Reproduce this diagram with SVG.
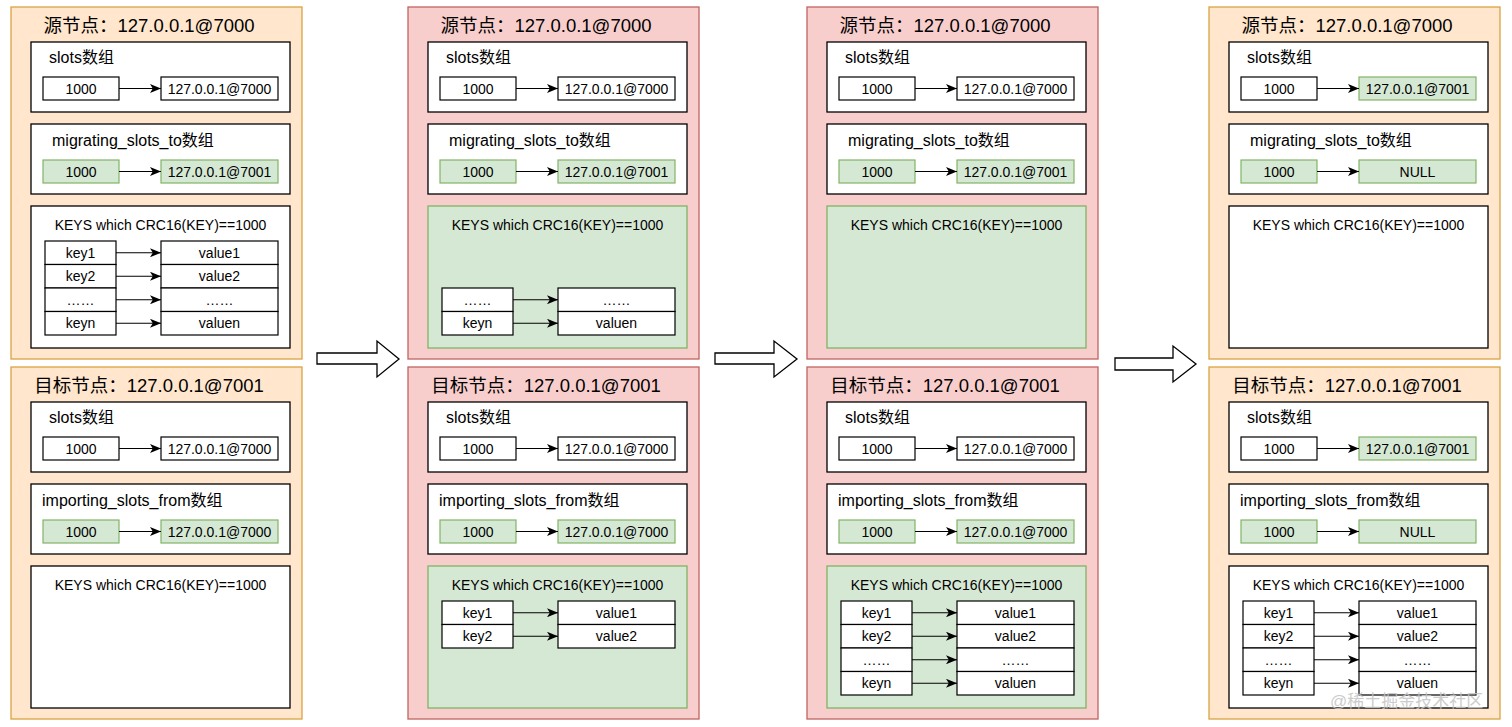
<svg xmlns="http://www.w3.org/2000/svg" width="1512" height="727" viewBox="0 0 1512 727">
<style>
text{font-family:"Liberation Sans","Noto Sans CJK SC",sans-serif;fill:#000}
.oo{fill:#ffe6cc;stroke:#d9a441;stroke-width:1.3}
.op{fill:#f8cecc;stroke:#bf6460;stroke-width:1.3}
.box{fill:#fff;stroke:#000;stroke-width:1.3}
.gbox{fill:#d5e8d4;stroke:#82b366;stroke-width:1.3}
.cell{fill:#fff;stroke:#000;stroke-width:1.2}
.gcell{fill:#d5e8d4;stroke:#82b366;stroke-width:1.2}
.title{font-size:18.5px;text-anchor:middle}
.sub{font-size:16px}
.t{font-size:14px;text-anchor:middle}
.conn{stroke:#000;stroke-width:1.2;fill:none;marker-end:url(#ah)}
.big{fill:#fff;stroke:#000;stroke-width:1.3}
.wm{font-size:17px;fill:#c4c4c4;opacity:0.85}
</style>
<defs>
<marker id="ah" markerUnits="userSpaceOnUse" markerWidth="11" markerHeight="9" refX="11" refY="4.5" orient="auto">
<path d="M0,0 L11,4.5 L0,9 L2.8,4.5 Z" fill="#000"/>
</marker>
</defs>

<!-- ===== Column 1 ===== -->
<g id="c1-src">
<rect class="oo" x="11" y="7" width="291" height="352"/>
<text class="title" x="149" y="32">源节点：127.0.0.1@7000</text>
<g id="c1-src-slots">
<rect class="box" x="31" y="42" width="259" height="70"/>
<text class="sub" x="49" y="63">slots数组</text>
<rect class="cell" x="43" y="77" width="76" height="23"/><text class="t" x="81" y="93.5">1000</text>
<rect class="cell" x="161" y="77" width="117" height="23"/><text class="t" x="219.5" y="93.5">127.0.0.1@7000</text>
</g>
<g id="c1-src-mig">
<rect class="box" x="31" y="124" width="259" height="70"/>
<text class="sub" x="52" y="146">migrating_slots_to数组</text>
<rect class="gcell" x="43" y="160" width="76" height="23"/><text class="t" x="81" y="176.5">1000</text>
<rect class="gcell" x="161" y="160" width="117" height="23"/><text class="t" x="219.5" y="176.5">127.0.0.1@7001</text>
</g>
<g id="c1-src-keys">
<rect class="box" x="31" y="206" width="259" height="142"/>
<text class="t" x="160.5" y="230">KEYS which CRC16(KEY)==1000</text>
<rect class="cell" x="45" y="241" width="71" height="23.5"/><text class="t" x="80.5" y="257.5">key1</text>
<rect class="cell" x="161" y="241" width="117" height="23.5"/><text class="t" x="219.5" y="257.5">value1</text>
<rect class="cell" x="45" y="264.5" width="71" height="23.5"/><text class="t" x="80.5" y="281">key2</text>
<rect class="cell" x="161" y="264.5" width="117" height="23.5"/><text class="t" x="219.5" y="281">value2</text>
<rect class="cell" x="45" y="288" width="71" height="23.5"/><text class="t" x="80.5" y="304.5">……</text>
<rect class="cell" x="161" y="288" width="117" height="23.5"/><text class="t" x="219.5" y="304.5">……</text>
<rect class="cell" x="45" y="311.5" width="71" height="23.5"/><text class="t" x="80.5" y="328">keyn</text>
<rect class="cell" x="161" y="311.5" width="117" height="23.5"/><text class="t" x="219.5" y="328">valuen</text>
</g>
</g>

<g id="c1-dst">
<rect class="oo" x="11" y="367" width="291" height="352"/>
<text class="title" x="149" y="392">目标节点：127.0.0.1@7001</text>
<g id="c1-dst-slots">
<rect class="box" x="31" y="402" width="259" height="70"/>
<text class="sub" x="49" y="423">slots数组</text>
<rect class="cell" x="43" y="437" width="76" height="23"/><text class="t" x="81" y="453.5">1000</text>
<rect class="cell" x="161" y="437" width="117" height="23"/><text class="t" x="219.5" y="453.5">127.0.0.1@7000</text>
</g>
<g id="c1-dst-imp">
<rect class="box" x="31" y="484" width="259" height="70"/>
<text class="sub" x="42" y="506">importing_slots_from数组</text>
<rect class="gcell" x="43" y="520" width="76" height="23"/><text class="t" x="81" y="536.5">1000</text>
<rect class="gcell" x="161" y="520" width="117" height="23"/><text class="t" x="219.5" y="536.5">127.0.0.1@7000</text>
</g>
<g id="c1-dst-keys">
<rect class="box" x="31" y="566" width="259" height="142"/>
<text class="t" x="160.5" y="590">KEYS which CRC16(KEY)==1000</text>
</g>
</g>

<!-- ===== Column 2 ===== -->
<g id="c2-src">
<rect class="op" x="408" y="7" width="291" height="352"/>
<text class="title" x="546" y="32">源节点：127.0.0.1@7000</text>
<g id="c2-src-slots">
<rect class="box" x="428" y="42" width="259" height="70"/>
<text class="sub" x="446" y="63">slots数组</text>
<rect class="cell" x="440" y="77" width="76" height="23"/><text class="t" x="478" y="93.5">1000</text>
<rect class="cell" x="558" y="77" width="117" height="23"/><text class="t" x="616.5" y="93.5">127.0.0.1@7000</text>
</g>
<g id="c2-src-mig">
<rect class="box" x="428" y="124" width="259" height="70"/>
<text class="sub" x="449" y="146">migrating_slots_to数组</text>
<rect class="gcell" x="440" y="160" width="76" height="23"/><text class="t" x="478" y="176.5">1000</text>
<rect class="gcell" x="558" y="160" width="117" height="23"/><text class="t" x="616.5" y="176.5">127.0.0.1@7001</text>
</g>
<g id="c2-src-keys">
<rect class="gbox" x="428" y="206" width="259" height="142"/>
<text class="t" x="557.5" y="230">KEYS which CRC16(KEY)==1000</text>
<rect class="cell" x="442" y="288" width="71" height="23.5"/><text class="t" x="477.5" y="304.5">……</text>
<rect class="cell" x="558" y="288" width="117" height="23.5"/><text class="t" x="616.5" y="304.5">……</text>
<rect class="cell" x="442" y="311.5" width="71" height="23.5"/><text class="t" x="477.5" y="328">keyn</text>
<rect class="cell" x="558" y="311.5" width="117" height="23.5"/><text class="t" x="616.5" y="328">valuen</text>
</g>
</g>

<g id="c2-dst">
<rect class="op" x="408" y="367" width="291" height="352"/>
<text class="title" x="546" y="392">目标节点：127.0.0.1@7001</text>
<g id="c2-dst-slots">
<rect class="box" x="428" y="402" width="259" height="70"/>
<text class="sub" x="446" y="423">slots数组</text>
<rect class="cell" x="440" y="437" width="76" height="23"/><text class="t" x="478" y="453.5">1000</text>
<rect class="cell" x="558" y="437" width="117" height="23"/><text class="t" x="616.5" y="453.5">127.0.0.1@7000</text>
</g>
<g id="c2-dst-imp">
<rect class="box" x="428" y="484" width="259" height="70"/>
<text class="sub" x="439" y="506">importing_slots_from数组</text>
<rect class="gcell" x="440" y="520" width="76" height="23"/><text class="t" x="478" y="536.5">1000</text>
<rect class="gcell" x="558" y="520" width="117" height="23"/><text class="t" x="616.5" y="536.5">127.0.0.1@7000</text>
</g>
<g id="c2-dst-keys">
<rect class="gbox" x="428" y="566" width="259" height="142"/>
<text class="t" x="557.5" y="590">KEYS which CRC16(KEY)==1000</text>
<rect class="cell" x="442" y="601" width="71" height="23.5"/><text class="t" x="477.5" y="617.5">key1</text>
<rect class="cell" x="558" y="601" width="117" height="23.5"/><text class="t" x="616.5" y="617.5">value1</text>
<rect class="cell" x="442" y="624.5" width="71" height="23.5"/><text class="t" x="477.5" y="641">key2</text>
<rect class="cell" x="558" y="624.5" width="117" height="23.5"/><text class="t" x="616.5" y="641">value2</text>
</g>
</g>

<!-- ===== Column 3 ===== -->
<g id="c3-src">
<rect class="op" x="807" y="7" width="291" height="352"/>
<text class="title" x="945" y="32">源节点：127.0.0.1@7000</text>
<g id="c3-src-slots">
<rect class="box" x="827" y="42" width="259" height="70"/>
<text class="sub" x="845" y="63">slots数组</text>
<rect class="cell" x="839" y="77" width="76" height="23"/><text class="t" x="877" y="93.5">1000</text>
<rect class="cell" x="957" y="77" width="117" height="23"/><text class="t" x="1015.5" y="93.5">127.0.0.1@7000</text>
</g>
<g id="c3-src-mig">
<rect class="box" x="827" y="124" width="259" height="70"/>
<text class="sub" x="848" y="146">migrating_slots_to数组</text>
<rect class="gcell" x="839" y="160" width="76" height="23"/><text class="t" x="877" y="176.5">1000</text>
<rect class="gcell" x="957" y="160" width="117" height="23"/><text class="t" x="1015.5" y="176.5">127.0.0.1@7001</text>
</g>
<g id="c3-src-keys">
<rect class="gbox" x="827" y="206" width="259" height="142"/>
<text class="t" x="956.5" y="230">KEYS which CRC16(KEY)==1000</text>
</g>
</g>

<g id="c3-dst">
<rect class="op" x="807" y="367" width="291" height="352"/>
<text class="title" x="945" y="392">目标节点：127.0.0.1@7001</text>
<g id="c3-dst-slots">
<rect class="box" x="827" y="402" width="259" height="70"/>
<text class="sub" x="845" y="423">slots数组</text>
<rect class="cell" x="839" y="437" width="76" height="23"/><text class="t" x="877" y="453.5">1000</text>
<rect class="cell" x="957" y="437" width="117" height="23"/><text class="t" x="1015.5" y="453.5">127.0.0.1@7000</text>
</g>
<g id="c3-dst-imp">
<rect class="box" x="827" y="484" width="259" height="70"/>
<text class="sub" x="838" y="506">importing_slots_from数组</text>
<rect class="gcell" x="839" y="520" width="76" height="23"/><text class="t" x="877" y="536.5">1000</text>
<rect class="gcell" x="957" y="520" width="117" height="23"/><text class="t" x="1015.5" y="536.5">127.0.0.1@7000</text>
</g>
<g id="c3-dst-keys">
<rect class="gbox" x="827" y="566" width="259" height="142"/>
<text class="t" x="956.5" y="590">KEYS which CRC16(KEY)==1000</text>
<rect class="cell" x="841" y="601" width="71" height="23.5"/><text class="t" x="876.5" y="617.5">key1</text>
<rect class="cell" x="957" y="601" width="117" height="23.5"/><text class="t" x="1015.5" y="617.5">value1</text>
<rect class="cell" x="841" y="624.5" width="71" height="23.5"/><text class="t" x="876.5" y="641">key2</text>
<rect class="cell" x="957" y="624.5" width="117" height="23.5"/><text class="t" x="1015.5" y="641">value2</text>
<rect class="cell" x="841" y="648" width="71" height="23.5"/><text class="t" x="876.5" y="664.5">……</text>
<rect class="cell" x="957" y="648" width="117" height="23.5"/><text class="t" x="1015.5" y="664.5">……</text>
<rect class="cell" x="841" y="671.5" width="71" height="23.5"/><text class="t" x="876.5" y="688">keyn</text>
<rect class="cell" x="957" y="671.5" width="117" height="23.5"/><text class="t" x="1015.5" y="688">valuen</text>
</g>
</g>

<!-- ===== Column 4 ===== -->
<g id="c4-src">
<rect class="oo" x="1209" y="7" width="291" height="352"/>
<text class="title" x="1347" y="32">源节点：127.0.0.1@7000</text>
<g id="c4-src-slots">
<rect class="box" x="1229" y="42" width="259" height="70"/>
<text class="sub" x="1247" y="63">slots数组</text>
<rect class="cell" x="1241" y="77" width="76" height="23"/><text class="t" x="1279" y="93.5">1000</text>
<rect class="gcell" x="1359" y="77" width="117" height="23"/><text class="t" x="1417.5" y="93.5">127.0.0.1@7001</text>
</g>
<g id="c4-src-mig">
<rect class="box" x="1229" y="124" width="259" height="70"/>
<text class="sub" x="1250" y="146">migrating_slots_to数组</text>
<rect class="gcell" x="1241" y="160" width="76" height="23"/><text class="t" x="1279" y="176.5">1000</text>
<rect class="gcell" x="1359" y="160" width="117" height="23"/><text class="t" x="1417.5" y="176.5">NULL</text>
</g>
<g id="c4-src-keys">
<rect class="box" x="1229" y="206" width="259" height="142"/>
<text class="t" x="1358.5" y="230">KEYS which CRC16(KEY)==1000</text>
</g>
</g>

<g id="c4-dst">
<rect class="oo" x="1209" y="367" width="291" height="352"/>
<text class="title" x="1347" y="392">目标节点：127.0.0.1@7001</text>
<g id="c4-dst-slots">
<rect class="box" x="1229" y="402" width="259" height="70"/>
<text class="sub" x="1247" y="423">slots数组</text>
<rect class="cell" x="1241" y="437" width="76" height="23"/><text class="t" x="1279" y="453.5">1000</text>
<rect class="gcell" x="1359" y="437" width="117" height="23"/><text class="t" x="1417.5" y="453.5">127.0.0.1@7001</text>
</g>
<g id="c4-dst-imp">
<rect class="box" x="1229" y="484" width="259" height="70"/>
<text class="sub" x="1240" y="506">importing_slots_from数组</text>
<rect class="gcell" x="1241" y="520" width="76" height="23"/><text class="t" x="1279" y="536.5">1000</text>
<rect class="gcell" x="1359" y="520" width="117" height="23"/><text class="t" x="1417.5" y="536.5">NULL</text>
</g>
<g id="c4-dst-keys">
<rect class="box" x="1229" y="566" width="259" height="142"/>
<text class="t" x="1358.5" y="590">KEYS which CRC16(KEY)==1000</text>
<rect class="cell" x="1243" y="601" width="71" height="23.5"/><text class="t" x="1278.5" y="617.5">key1</text>
<rect class="cell" x="1359" y="601" width="117" height="23.5"/><text class="t" x="1417.5" y="617.5">value1</text>
<rect class="cell" x="1243" y="624.5" width="71" height="23.5"/><text class="t" x="1278.5" y="641">key2</text>
<rect class="cell" x="1359" y="624.5" width="117" height="23.5"/><text class="t" x="1417.5" y="641">value2</text>
<rect class="cell" x="1243" y="648" width="71" height="23.5"/><text class="t" x="1278.5" y="664.5">……</text>
<rect class="cell" x="1359" y="648" width="117" height="23.5"/><text class="t" x="1417.5" y="664.5">……</text>
<rect class="cell" x="1243" y="671.5" width="71" height="23.5"/><text class="t" x="1278.5" y="688">keyn</text>
<rect class="cell" x="1359" y="671.5" width="117" height="23.5"/><text class="t" x="1417.5" y="688">valuen</text>
</g>
</g>

<!-- ===== Transition arrows ===== -->
<g id="transitions">
<polygon class="big" points="317,353 377,353 377,341 399,359 377,377 377,364 317,364"/>
<polygon class="big" points="715,353 774,353 774,341 797,359 774,377 774,364 715,364"/>
<polygon class="big" points="1115,358 1173,358 1173,346 1196,364 1173,382 1173,370 1115,370"/>
</g>

<!-- ===== Connectors ===== -->
<g id="connectors">
<path class="conn" d="M119,88.5 H161"/>
<path class="conn" d="M119,171.5 H161"/>
<path class="conn" d="M116,252.75 H161"/>
<path class="conn" d="M116,276.25 H161"/>
<path class="conn" d="M116,299.75 H161"/>
<path class="conn" d="M116,323.25 H161"/>
<path class="conn" d="M119,448.5 H161"/>
<path class="conn" d="M119,531.5 H161"/>

<path class="conn" d="M516,88.5 H558"/>
<path class="conn" d="M516,171.5 H558"/>
<path class="conn" d="M513,299.75 H558"/>
<path class="conn" d="M513,323.25 H558"/>
<path class="conn" d="M516,448.5 H558"/>
<path class="conn" d="M516,531.5 H558"/>
<path class="conn" d="M513,612.75 H558"/>
<path class="conn" d="M513,636.25 H558"/>

<path class="conn" d="M915,88.5 H957"/>
<path class="conn" d="M915,171.5 H957"/>
<path class="conn" d="M915,448.5 H957"/>
<path class="conn" d="M915,531.5 H957"/>
<path class="conn" d="M912,612.75 H957"/>
<path class="conn" d="M912,636.25 H957"/>
<path class="conn" d="M912,659.75 H957"/>
<path class="conn" d="M912,683.25 H957"/>

<path class="conn" d="M1317,88.5 H1359"/>
<path class="conn" d="M1317,171.5 H1359"/>
<path class="conn" d="M1317,448.5 H1359"/>
<path class="conn" d="M1317,531.5 H1359"/>
<path class="conn" d="M1314,612.75 H1359"/>
<path class="conn" d="M1314,636.25 H1359"/>
<path class="conn" d="M1314,659.75 H1359"/>
<path class="conn" d="M1314,683.25 H1359"/>
</g>

<text class="wm" x="1330" y="707">@稀土掘金技术社区</text>
</svg>
